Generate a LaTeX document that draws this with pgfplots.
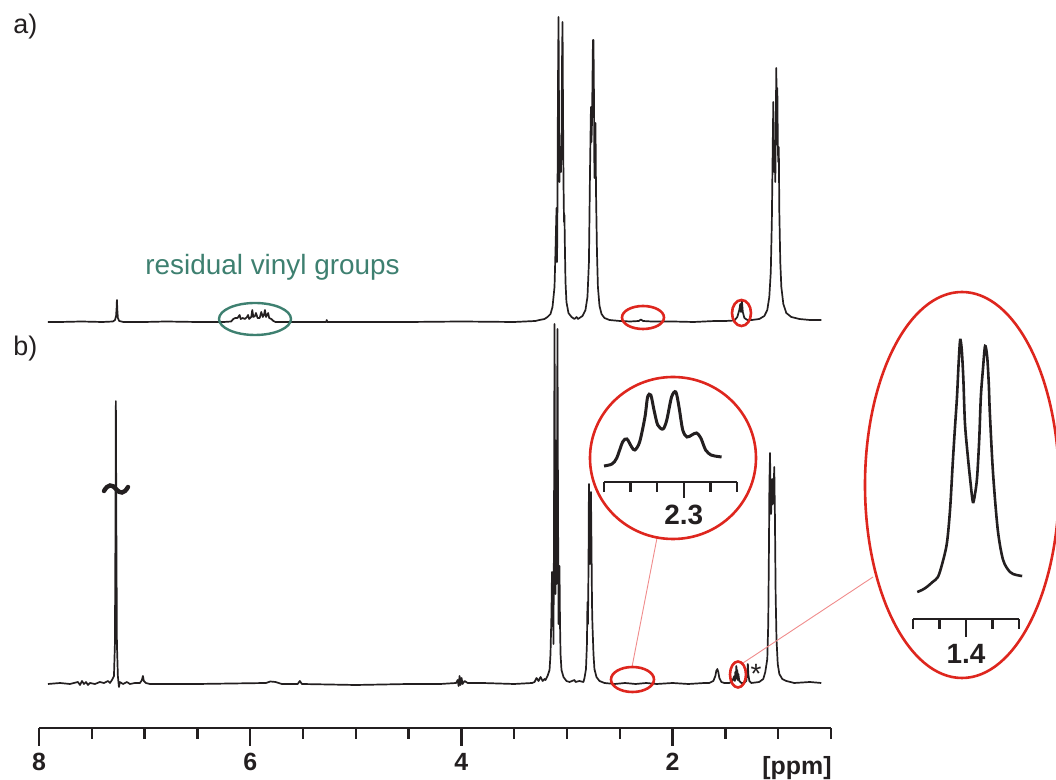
\documentclass[border=0pt]{standalone}
\usepackage{pgfplots}
\pgfplotsset{compat=1.18}
\usepackage{pgfplotstable}
\usepackage{fontspec}
\setmainfont{Liberation Sans}

\newlength\px
\setlength\px{0.5bp}

\definecolor{spec}{RGB}{35,31,32}
\definecolor{ered}{RGB}{222,38,30}
\definecolor{lred}{RGB}{240,140,140}
\definecolor{vinyl}{RGB}{62,128,112}

% trace a: height above its own baseline
\pgfplotstableread{
ppm h
7.915 0
7.80 0
7.60 0.5
7.40 0
7.30 0.5
7.28 2
7.27 6
7.265 14
7.262 22
7.258 12
7.253 4
7.24 1
7.20 0
7.00 0
6.80 0.5
6.50 0
6.25 0
6.18 0.5
6.16 3
6.14 4
6.12 4
6.10 7
6.09 3
6.07 4
6.05 3
6.03 5
6.02 7
6.01 3
5.99 5
5.98 12
5.97 5
5.955 6
5.945 9
5.93 4
5.91 4
5.895 10
5.88 5
5.87 7
5.86 12
5.85 5
5.83 9
5.82 4
5.80 3
5.78 1
5.76 0
5.50 0
5.28 0
5.275 2
5.27 0
5.00 0
4.50 0
4.00 0.5
3.50 0
3.30 1
3.26 2
3.213 3
3.184 5
3.156 8
3.137 15
3.118 35
3.109 70
3.099 114
3.094 60
3.090 120
3.085 240
3.080 305
3.075 200
3.071 140
3.066 170
3.061 175
3.057 150
3.052 170
3.047 260
3.042 300
3.038 220
3.033 140
3.028 100
3.024 107
3.019 70
3.014 40
3.005 20
2.986 9
2.957 5
2.929 3
2.910 5
2.895 3
2.882 4
2.853 6
2.825 12
2.806 25
2.792 60
2.782 150
2.773 215
2.768 180
2.763 200
2.754 282
2.749 282
2.744 220
2.740 144
2.735 160
2.730 199
2.725 130
2.716 70
2.707 35
2.692 16
2.673 8
2.645 4
2.598 2
2.50 1
2.40 0.5
2.32 1
2.30 2.5
2.28 1
2.20 0.5
2.00 0.5
1.80 0
1.60 1
1.50 1
1.415 1.5
1.387 5
1.368 12
1.359 18
1.352 10
1.344 22
1.335 10
1.320 4
1.292 2
1.25 2
1.179 3
1.131 6
1.103 12
1.084 25
1.070 50
1.060 100
1.051 180
1.046 220
1.041 160
1.037 150
1.032 165
1.027 140
1.022 200
1.018 254
1.013 210
1.008 234
1.003 175
0.999 160
0.994 175
0.989 110
0.980 60
0.970 35
0.951 18
0.923 9
0.876 5
0.800 3
0.700 2
0.592 2
}\traceA

% trace b: height above its own baseline
\pgfplotstableread{
ppm h
7.915 0
7.80 1
7.707 0
7.631 2
7.612 -1
7.593 3
7.574 0
7.555 2
7.536 -1
7.518 1
7.470 0
7.423 2
7.385 1
7.347 3
7.328 1
7.309 4
7.290 8
7.281 40
7.276 150
7.272 283
7.267 150
7.262 40
7.253 8
7.243 -3
7.234 2
7.205 0
7.167 2
7.139 0
7.092 1
7.044 1
7.025 4
7.016 8
7.007 3
6.988 1
6.95 0
6.50 0
5.85 1
5.81 2.5
5.76 2
5.70 0
5.55 0
5.53 3
5.51 0
5.00 -1
4.50 0
4.20 0
4.05 1
4.036 4
4.026 -2
4.017 8
4.008 -1
3.998 6
3.989 0
3.970 3
3.94 1
3.80 1
3.50 0
3.33 1
3.307 2
3.288 6
3.269 3
3.250 7
3.231 3
3.212 5
3.203 4
3.184 8
3.165 14
3.156 30
3.147 70
3.142 112
3.137 60
3.132 90
3.128 40
3.123 150
3.118 360
3.113 200
3.109 90
3.104 140
3.099 100
3.094 230
3.090 355
3.085 180
3.080 60
3.075 80
3.071 118
3.066 60
3.061 30
3.052 14
3.033 7
3.005 3
2.976 2
2.929 4
2.919 2
2.882 3
2.844 2
2.834 6
2.820 15
2.811 40
2.806 82
2.801 60
2.796 120
2.792 200
2.787 150
2.782 120
2.778 150
2.773 192
2.768 140
2.763 80
2.759 60
2.749 30
2.740 15
2.721 7
2.692 3
2.645 1
2.55 0
2.45 1
2.35 0
2.25 1
2.15 0
2.00 1
1.85 0
1.70 1
1.652 1
1.614 3
1.595 8
1.586 13
1.576 15
1.567 12
1.557 6
1.538 2
1.510 1
1.462 1
1.434 3
1.415 8
1.410 3
1.406 12
1.401 5
1.396 18
1.391 6
1.387 14
1.382 4
1.377 10
1.368 3
1.349 1
1.321 1
1.302 3
1.292 12
1.287 20
1.283 10
1.273 3
1.254 1
1.180 2
1.141 5
1.122 12
1.103 25
1.094 60
1.087 140
1.083 200
1.077 231
1.073 190
1.067 170
1.060 190
1.056 205
1.051 180
1.044 190
1.037 217
1.031 170
1.024 90
1.016 45
1.004 20
0.989 10
0.961 5
0.923 3
0.848 1
0.700 2
0.592 1
}\traceB

% zoom of the 2.3 ppm multiplet
\pgfplotstableread{
ppm h
2.450 16
2.435 18
2.426 24
2.415 40
2.407 43
2.398 35
2.392 32
2.383 40
2.373 65
2.368 85
2.362 87
2.356 72
2.349 57
2.339 53
2.332 62
2.323 85
2.315 90
2.309 75
2.302 52
2.294 45
2.285 47
2.276 49
2.268 44
2.259 32
2.249 27
2.242 26
2.229 25
}\zoomA

% zoom of the 1.4 ppm doublet
\pgfplotstableread{
ppm h
1.492 27
1.483 29
1.474 32
1.463 37
1.453 42
1.445 55
1.436 76
1.430 110
1.425 156
1.421 190
1.417 222
1.414 255
1.411 279
1.408 269
1.405 240
1.402 196
1.397 165
1.392 139
1.387 117
1.383 125
1.379 142
1.375 180
1.372 222
1.368 250
1.364 273
1.360 262
1.357 235
1.355 206
1.349 146
1.340 89
1.330 59
1.317 47
1.305 44
1.294 43
}\zoomB

\pgfplotsset{
  nmr/.style={
    scale only axis, anchor=south west, x dir=reverse,
    enlargelimits=false, clip=false,
    axis x line=bottom, axis y line=none,
    x axis line style={-, line width=1.2bp, spec},
    tick align=outside,
    every tick/.style={line width=1.2bp, spec},
    /pgf/number format/assume math mode=true,
    tick label style={font=\bfseries\fontsize{12.5}{14}\selectfont, text=spec},
  },
}

\begin{document}
\begin{tikzpicture}
\useasboundingbox (0,0) rectangle (1056\px,780\px);
\clip (0,0) rectangle (1056\px,780\px);

% main spectra and ppm scale
\begin{axis}[nmr,
  at={(39\px,52\px)},
  width=792\px, height=728\px,
  xmin=0.5, xmax=8, ymin=0, ymax=728,
  xtick={2,4,6,8},
  minor xtick={0.5,1,1.5,2.5,3,3.5,4.5,5,5.5,6.5,7,7.5},
  major tick length=18\px, minor tick length=11\px,
]
\addplot[spec, line width=0.85bp, line join=round] table[x=ppm, y expr=\thisrow{h}+406] {\traceA};
\addplot[spec, line width=0.85bp, line join=round] table[x=ppm, y expr=\thisrow{h}+44] {\traceB};
\end{axis}

% inset 2.3 ppm
\begin{axis}[nmr,
  at={(604\px,298\px)},
  width=133\px, height=100\px,
  xmin=2.2, xmax=2.45, ymin=0, ymax=100,
  xtick={2.3}, minor xtick={2.2,2.25,2.35,2.4,2.45},
  major tick length=16\px, minor tick length=10\px,
  tick label style={font=\bfseries\fontsize{14}{16}\selectfont},
]
\addplot[spec, line width=1.5bp, smooth, tension=0.5] table[x=ppm, y=h] {\zoomA};
\end{axis}

% inset 1.4 ppm
\begin{axis}[nmr,
  at={(913\px,161\px)},
  width=106\px, height=280\px,
  xmin=1.3, xmax=1.5, ymin=0, ymax=280,
  xtick={1.4}, minor xtick={1.3,1.35,1.45,1.5},
  major tick length=18\px, minor tick length=10\px,
  tick label style={font=\bfseries\fontsize{14}{16}\selectfont},
]
\addplot[spec, line width=1.3bp, smooth, tension=0.5] table[x=ppm, y=h] {\zoomB};
\end{axis}

% annotations, in pixel units from the top left corner
\begin{scope}[x=\px, y=-\px, yshift=780\px]
  \draw[lred, line width=0.45bp] (632,667) -- (657,538);
  \draw[lred, line width=0.45bp] (743,663) -- (873,577);
  \draw[ered, line width=1.3bp] (643,317.5) ellipse [x radius=21, y radius=11.5];
  \draw[ered, line width=1.3bp] (741.5,313) ellipse [x radius=9.5, y radius=13];
  \draw[ered, line width=1.3bp] (632.5,679.5) ellipse [x radius=21.5, y radius=12.5];
  \draw[ered, line width=1.3bp] (738,674.5) ellipse [x radius=8, y radius=13];
  \draw[ered, line width=1.3bp] (673,458) ellipse [x radius=83, y radius=81];
  \draw[ered, line width=1.3bp] (962,485) ellipse [x radius=97, y radius=193];
  \draw[vinyl, line width=1.2bp] (255,319) ellipse [x radius=36, y radius=16];
  % break mark on the cut solvent peak
  \draw[spec, line width=2.2bp, line cap=round]
    (104,491) .. controls (108,484) and (112,484) .. (116,489)
    .. controls (120,494) and (124,494) .. (128,487);
  \node[anchor=base west, inner sep=0, text=spec, font=\fontsize{13.5}{16}\selectfont] at (13,34) {a)};
  \node[anchor=base west, inner sep=0, text=spec, font=\fontsize{13.5}{16}\selectfont] at (13,356) {b)};
  \node[anchor=base west, inner sep=0, text=vinyl, font=\fontsize{14}{16}\selectfont] at (145,275) {residual vinyl groups};
  \node[anchor=base, inner sep=0, text=spec, font=\fontsize{14}{16}\selectfont] at (756,684) {*};
  \node[anchor=base east, inner sep=0, text=spec, font=\bfseries\fontsize{12.5}{14}\selectfont] at (832,775) {[ppm]};
\end{scope}
\end{tikzpicture}
\end{document}
